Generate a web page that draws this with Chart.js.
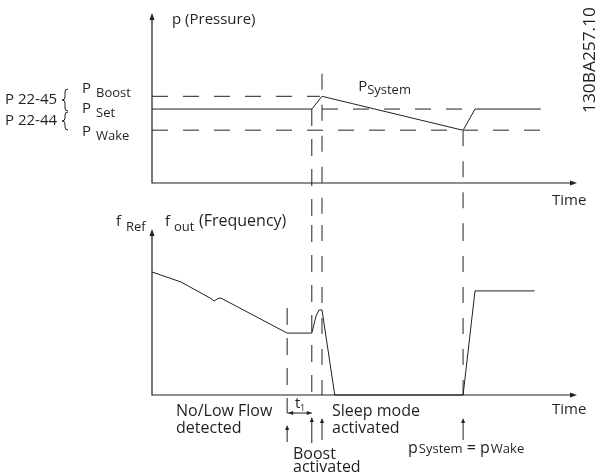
<!DOCTYPE html>
<html>
<head>
<meta charset="utf-8">
<script src="https://cdn.jsdelivr.net/npm/chart.js@4.4.1/dist/chart.umd.min.js"></script>
<style>
  html, body { margin: 0; padding: 0; background: #fff; }
  #wrap { position: relative; width: 598px; height: 475px; }
  #wrap canvas { position: absolute; left: 0; top: 0; }
</style>
</head>
<body>
<div id="wrap">
  <canvas id="pressure" width="598" height="475"></canvas>
  <canvas id="freq" width="598" height="475"></canvas>
</div>
<script>
const INK = '#231f20';
const GREY = '#6d6e71';
const FONT = '"Open Sans", "DejaVu Sans", sans-serif';

// shared time axis (arbitrary units)
const timeRange = [0, 100];
// low flow, boost, sleep, wake
const eventTimes = [31.8, 37.6, 40, 73.2];

// pressure panel
const pressureRange = [0, 10];
const levelNames = ['Boost', 'Set', 'Wake'];
const levelValues = [5.1, 4.35, 3.1];
const boostDashEnd = 39.5;
const wakeDashEnd = 91.5;
const setDashTimes = [40, 76];
const pSystemTimes = [0, 37.6, 40, 73.2, 76, 91.5];
const pSystemValues = [4.35, 4.35, 5.1, 3.1, 4.35, 4.35];
// dashed event markers in pressure units (boost, sleep, wake)
const markerPTop = [4.35, 6.43, 3.1];
const markerPBottom = -2.5;

// frequency panel
const freqRange = [0, 10];
const fOutTimes = [0, 6.8, 13.9, 14.6, 15.5, 16.2, 31.8, 37.6, 38.6, 39.3, 40, 43, 73.2, 76, 90];
const fOutValues = [7.41, 6.81, 5.81, 5.66, 5.81, 5.84, 3.73, 3.73, 4.76, 5.12, 5.12, 0, 0, 6.27, 6.27];
// dashed event markers in frequency units (low flow, boost, sleep, wake)
const markerFTop = [5.24, 10.24, 10.24, 10.24];
const markerFBottom = [-0.48, -0.42, 0, 0];

function pts(xs, ys) { return xs.map((x, i) => ({ x, y: ys[i] })); }

function line(data, extra) {
  return Object.assign({
    data, borderColor: INK, borderWidth: 1, pointRadius: 0, fill: false, clip: false, tension: 0
  }, extra);
}

function options(pad, yRange) {
  return {
    responsive: false, animation: false, devicePixelRatio: 1, events: [],
    layout: { padding: pad },
    plugins: { legend: { display: false }, tooltip: { enabled: false } },
    scales: {
      x: { type: 'linear', min: timeRange[0], max: timeRange[1], display: false },
      y: { type: 'linear', min: yRange[0], max: yRange[1], display: false }
    }
  };
}

function text(ctx, s, x, y, size, color) {
  ctx.font = size + 'px ' + FONT;
  ctx.fillStyle = color || INK;
  ctx.fillText(s, x, y);
  return x + ctx.measureText(s).width;
}

// big letter followed by a smaller, lowered suffix
function subText(ctx, main, sub, x, y, gap, drop) {
  let nx = text(ctx, main, x, y, 15);
  return text(ctx, sub, nx + gap, y + drop, 13);
}

function axes(ctx, chart) {
  const { x, y } = chart.scales;
  const x0 = x.getPixelForValue(timeRange[0]);
  const x1 = x.getPixelForValue(timeRange[1]);
  const y0 = y.getPixelForValue(y.min);
  const y1 = y.getPixelForValue(y.max);
  ctx.save();
  ctx.strokeStyle = INK; ctx.fillStyle = INK; ctx.lineWidth = 1.2;
  ctx.beginPath();
  ctx.moveTo(x0, y1 + 4); ctx.lineTo(x0, y0);
  ctx.lineTo(x1 - 5, y0);
  ctx.stroke();
  ctx.beginPath();
  ctx.moveTo(x0, y1); ctx.lineTo(x0 - 2.5, y1 + 7); ctx.lineTo(x0 + 2.5, y1 + 7); ctx.closePath();
  ctx.moveTo(x1, y0); ctx.lineTo(x1 - 7, y0 - 2.5); ctx.lineTo(x1 - 7, y0 + 2.5); ctx.closePath();
  ctx.fill();
  ctx.restore();
}

function upArrow(ctx, x, yFrom, yTo) {
  ctx.save();
  ctx.strokeStyle = INK; ctx.fillStyle = INK; ctx.lineWidth = 1;
  ctx.beginPath(); ctx.moveTo(x, yFrom); ctx.lineTo(x, yTo + 4); ctx.stroke();
  ctx.beginPath(); ctx.moveTo(x, yTo); ctx.lineTo(x - 2, yTo + 5); ctx.lineTo(x + 2, yTo + 5); ctx.closePath(); ctx.fill();
  ctx.restore();
}

function brace(ctx, x, yTop, yBot) {
  const ym = (yTop + yBot) / 2;
  ctx.save();
  ctx.strokeStyle = INK; ctx.lineWidth = 1;
  ctx.beginPath();
  ctx.moveTo(x + 3, yTop);
  ctx.quadraticCurveTo(x, yTop, x, yTop + 3);
  ctx.lineTo(x, ym - 3);
  ctx.quadraticCurveTo(x, ym, x - 3, ym);
  ctx.quadraticCurveTo(x, ym, x, ym + 3);
  ctx.lineTo(x, yBot - 3);
  ctx.quadraticCurveTo(x, yBot, x + 3, yBot);
  ctx.stroke();
  ctx.restore();
}

const pressureDecor = {
  id: 'pressureDecor',
  afterDraw(chart) {
    const ctx = chart.ctx;
    const { x, y } = chart.scales;
    axes(ctx, chart);
    ctx.textBaseline = 'alphabetic';
    text(ctx, 'p (Pressure)', 172, 24, 15);
    text(ctx, 'Time', 552, 205, 15);
    subText(ctx, 'P', 'System', x.getPixelForValue(48.5), y.getPixelForValue(5.4), 0, 3);

    // parameter labels on the left
    text(ctx, 'P 22-45', 5, 104, 15);
    text(ctx, 'P 22-44', 5, 125, 15);
    brace(ctx, 65, 89, 111);
    brace(ctx, 65, 112, 130);
    const labelY = [93, 113, 136];
    levelNames.forEach((n, i) => subText(ctx, 'P', n, 82, labelY[i], 5, 4));

    // drawing number, rotated
    ctx.save();
    ctx.font = '17px ' + FONT;
    ctx.fillStyle = INK;
    const w = ctx.measureText('130BA257.10').width;
    ctx.translate(595, 113);
    ctx.rotate(-Math.PI / 2);
    ctx.scale(106 / w, 1);
    ctx.fillText('130BA257.10', 0, 0);
    ctx.restore();
  }
};

const freqDecor = {
  id: 'freqDecor',
  afterDraw(chart) {
    const ctx = chart.ctx;
    const { x } = chart.scales;
    axes(ctx, chart);
    ctx.textBaseline = 'alphabetic';
    subText(ctx, 'f', 'Ref', 116, 226, 5, 5);
    subText(ctx, 'f', 'out', 165, 226, 4, 5);
    text(ctx, '(Frequency)', 199, 226, 16);
    text(ctx, 'Time', 552, 414, 15);

    const xe = eventTimes.map(t => x.getPixelForValue(t));
    text(ctx, 'No/Low Flow', 176, 416, 16);
    text(ctx, 'detected', 176, 433, 16);
    text(ctx, 'Sleep mode', 332, 416, 16);
    text(ctx, 'activated', 332, 433, 16);
    text(ctx, 'Boost', 293, 459, 16);
    text(ctx, 'activated', 293, 472, 16);
    let px = text(ctx, 'p', 408, 453, 16);
    px = text(ctx, 'System', px + 1, 453, 13);
    px = text(ctx, ' = ', px, 453, 16);
    px = text(ctx, 'p', px, 453, 16);
    text(ctx, 'Wake', px + 1, 453, 13);

    // t1 interval
    text(ctx, 't', 295, 408, 15);
    text(ctx, '1', 300, 411, 9);
    ctx.save();
    ctx.strokeStyle = INK; ctx.fillStyle = INK; ctx.lineWidth = 1;
    ctx.beginPath(); ctx.moveTo(xe[0], 403); ctx.lineTo(xe[0], 413); ctx.lineTo(xe[1], 413); ctx.stroke();
    ctx.beginPath();
    ctx.moveTo(xe[1], 413); ctx.lineTo(xe[1] - 5, 411); ctx.lineTo(xe[1] - 5, 415); ctx.closePath();
    ctx.moveTo(xe[0] + 1, 413); ctx.lineTo(xe[0] + 6, 411); ctx.lineTo(xe[0] + 6, 415); ctx.closePath();
    ctx.fill();
    ctx.restore();

    upArrow(ctx, xe[0], 442, 425);
    upArrow(ctx, xe[1], 443, 417);
    upArrow(ctx, xe[2], 440, 418);
    upArrow(ctx, xe[3], 440, 418);
  }
};

const vDashBlack = { borderDash: [17, 13] };
const vDashGrey = { borderDash: [16, 15], borderColor: GREY, borderWidth: 1.5 };
const hDash = { borderDash: [16, 15] };

new Chart(document.getElementById('pressure'), {
  type: 'line',
  data: {
    datasets: [
      line(pts([0, boostDashEnd], [levelValues[0], levelValues[0]]), hDash),
      line(pts([0, wakeDashEnd], [levelValues[2], levelValues[2]]), { borderDash: [16, 15], borderColor: GREY, borderWidth: 1.4 }),
      line(pts(setDashTimes, [levelValues[1], levelValues[1]]), hDash),
      line(pts(pSystemTimes, pSystemValues)),
      line(pts([eventTimes[1], eventTimes[1]], [markerPTop[0], markerPBottom]), vDashBlack),
      line(pts([eventTimes[2], eventTimes[2]], [markerPTop[1], markerPBottom]), vDashGrey),
      line(pts([eventTimes[3], eventTimes[3]], [markerPTop[2], markerPBottom]), vDashGrey)
    ]
  },
  options: options({ left: 152, right: 21, top: 13, bottom: 475 - 183 }, pressureRange),
  plugins: [pressureDecor]
});

new Chart(document.getElementById('freq'), {
  type: 'line',
  data: {
    datasets: [
      line(pts(fOutTimes, fOutValues)),
      line(pts([eventTimes[0], eventTimes[0]], [markerFTop[0], markerFBottom[0]]), vDashBlack),
      line(pts([eventTimes[1], eventTimes[1]], [markerFTop[1], markerFBottom[1]]), vDashBlack),
      line(pts([eventTimes[2], eventTimes[2]], [markerFTop[2], markerFBottom[2]]), vDashGrey),
      line(pts([eventTimes[3], eventTimes[3]], [markerFTop[3], markerFBottom[3]]), vDashGrey)
    ]
  },
  options: options({ left: 152, right: 21, top: 229, bottom: 475 - 395 }, freqRange),
  plugins: [freqDecor]
});
</script>
</body>
</html>
